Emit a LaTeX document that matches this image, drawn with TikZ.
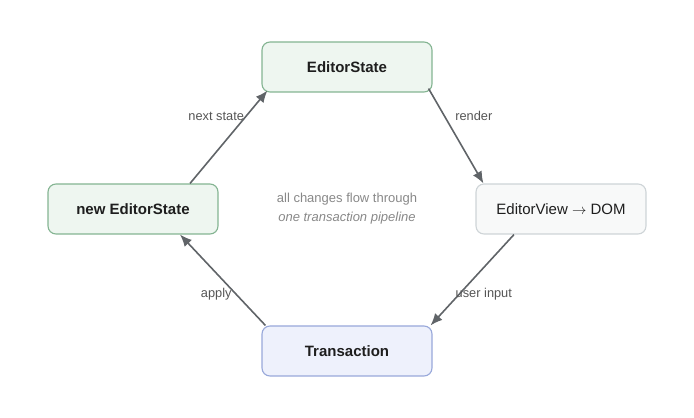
\documentclass[tikz,border=0pt]{standalone}
\usepackage{fontspec}
\setmainfont{Liberation Sans}
\usepackage{tikz}
\usetikzlibrary{arrows.meta}
\definecolor{greenfill}{RGB}{238,246,240}
\definecolor{greenline}{RGB}{132,180,146}
\definecolor{grayfill}{RGB}{248,249,249}
\definecolor{grayline}{RGB}{206,212,215}
\definecolor{bluefill}{RGB}{238,241,252}
\definecolor{blueline}{RGB}{152,168,218}
\definecolor{arrowgray}{RGB}{96,100,104}
\definecolor{labelgray}{RGB}{85,85,85}
\definecolor{notegray}{RGB}{136,136,136}
\definecolor{darktext}{RGB}{30,30,30}
\tikzstyle{block} = [rectangle, draw, line width=1.1pt, rounded corners=8pt, minimum
width=170pt, minimum height=50pt, text centered, text=darktext, font=\fontsize{15}{17}\selectfont\bfseries]
\tikzstyle{statebox} = [block, fill=greenfill, draw=greenline]
\tikzstyle{viewbox} = [block, fill=grayfill, draw=grayline, font=\fontsize{15}{17}\selectfont]
\tikzstyle{transbox} = [block, fill=bluefill, draw=blueline]
\tikzstyle{line} = [draw=arrowgray, line width=1.6pt, -{Latex[length=12pt,width=10pt]}]
\tikzstyle{tag} = [text=labelgray, font=\fontsize{12.8}{15}\selectfont, inner sep=1pt]
\begin{document}
\begin{tikzpicture}[x=1pt, y=1pt]
			\useasboundingbox (0,0) rectangle (694,418);
			\node [align=center, text=notegray, font=\fontsize{13}{19}\selectfont] (note) at (347,209)
			{all changes flow through\\ \textit{one transaction pipeline}};
			\node [statebox, above of=note, node distance=142pt] (state) {EditorState};
			\node [transbox, below of=note, node distance=142pt] (trans) {Transaction};
			\node [statebox, left of=note, node distance=214pt] (newstate) {new EditorState};
			\node [viewbox, right of=note, node distance=214pt] (view) {EditorView $\rightarrow$ DOM};
			\path [line] ([xshift=57pt]newstate.north) -- node [tag, pos=0.72, left] {next state}
			([xshift=6pt,yshift=2pt]state.south west);
			\path [line] ([xshift=-4pt,yshift=4pt]state.south east) -- node [tag, pos=0.29, right=9pt] {render}
			([xshift=8pt]view.north west);
			\path [line] ([xshift=-47pt]view.south) -- node [tag, pos=0.66, anchor=west, xshift=-5pt] {user input}
			([xshift=-2pt]trans.north east);
			\path [line] ([xshift=4pt]trans.north west) -- node [tag, pos=0.34, left=3pt] {apply}
			([xshift=47pt]newstate.south);
		\end{tikzpicture}
\end{document}
